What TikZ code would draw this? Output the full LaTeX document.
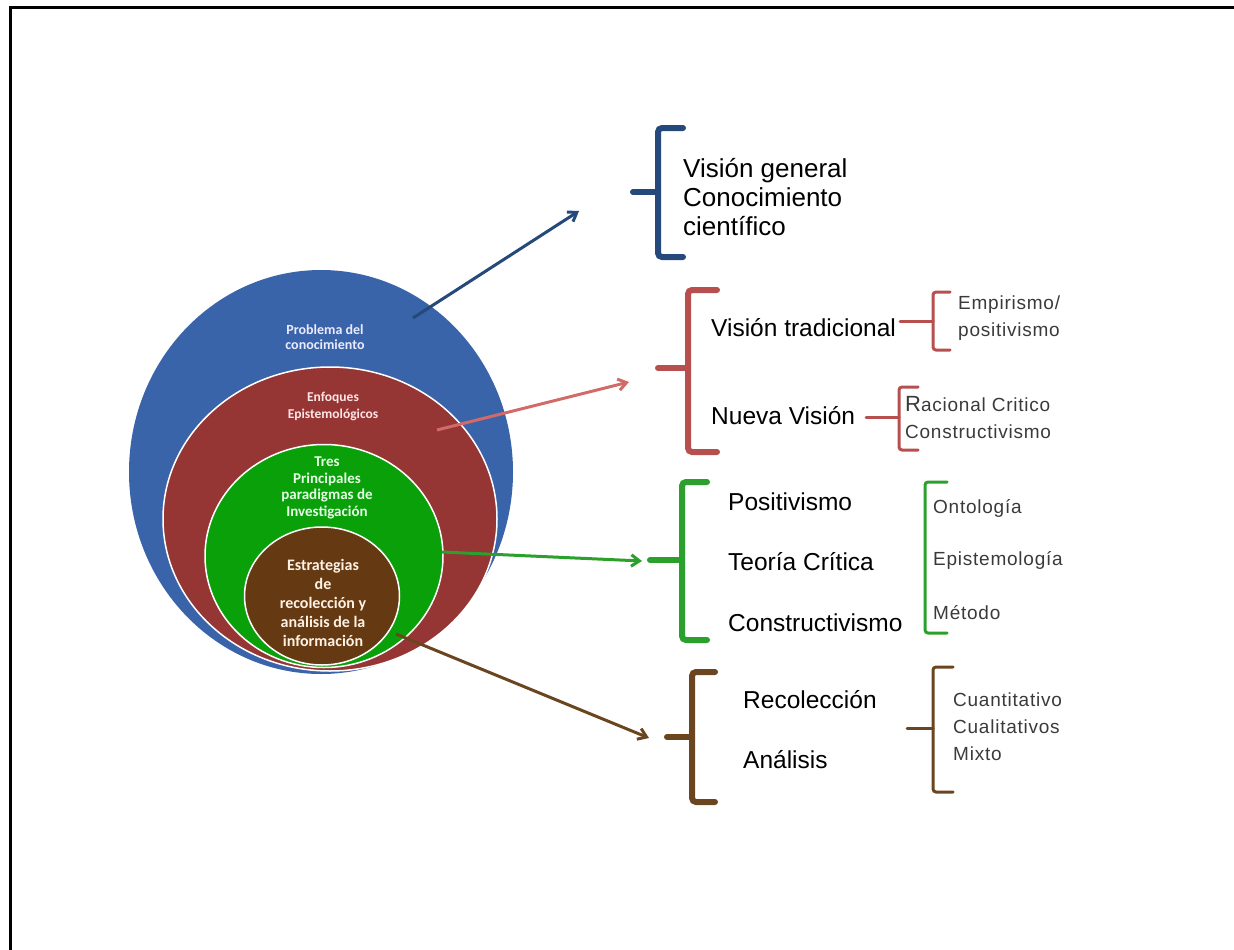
\documentclass[tikz,border=0pt]{standalone}
\usepackage{fontspec}
\setmainfont{Liberation Sans}
\newfontfamily\calibri{Carlito}
\newfontfamily\subfont[LetterSpace=4]{Liberation Sans}
\usetikzlibrary{positioning, arrows.meta, shapes.geometric}

\definecolor{bluecirc}{HTML}{3A64AA}
\definecolor{bluedark}{HTML}{24497A}
\definecolor{redcirc}{HTML}{963634}
\definecolor{redline}{HTML}{B84F4F}
\definecolor{redarrow}{HTML}{D26A68}
\definecolor{greencirc}{HTML}{0AA00A}
\definecolor{greenline}{HTML}{2CA02C}
\definecolor{browncirc}{HTML}{653A12}
\definecolor{brownline}{HTML}{6B4520}
\definecolor{graytext}{HTML}{3A3A3A}

\begin{document}
\begin{tikzpicture}[x=1pt, y=-1pt]
	% Define styles
	\tikzset{
		ring/.style={ellipse, draw=white, line width=1.5pt, inner sep=0pt},
		ringtext/.style={align=center, inner sep=0pt},
		line/.style={draw, line width=3pt, -{Straight Barb[angle=70:10pt]}},
		bigbrace/.style={line width=6pt, rounded corners=4pt, line cap=round},
		smallbrace/.style={line width=3pt, rounded corners=3pt, line cap=round},
		main/.style={anchor=west, inner sep=0pt, align=left, font=\fontsize{24.5}{28}\selectfont},
		sub/.style={anchor=west, inner sep=0pt, align=left, text=graytext, font=\subfont\fontsize{19}{27}\selectfont}
	}
	\useasboundingbox (0,0) rectangle (1234,950);
	\draw[line width=3pt] (10,950) -- (10,8) -- (1234,8);
	
	% Circles
	\node[ellipse, fill=bluecirc, minimum width=384pt, minimum height=404pt] (prob) at (321,472) {};
	\node[ring, fill=redcirc, minimum width=334pt, minimum height=304pt] (enf) at (330,519) {};
	\node[ring, fill=greencirc, minimum width=238pt, minimum height=223pt] (tres) at (324,556) {};
	\node[ring, fill=browncirc, minimum width=155pt, minimum height=138pt] (estr) at (322,596) {};
	
	\node[ringtext, text=blue!8, font=\calibri\bfseries\fontsize{14}{15}\selectfont] (probt) at (325,337) {Problema del\\conocimiento};
	\node[ringtext, text=red!10, font=\calibri\bfseries\fontsize{13.5}{17}\selectfont] (enft) at (333,406) {Enfoques\\Epistemológicos};
	\node[ringtext, text=green!10, font=\calibri\bfseries\fontsize{15}{16.7}\selectfont] (trest) at (327,488) {Tres\\Principales\\paradigmas de\\Investigación};
	\node[ringtext, text=orange!10, font=\calibri\bfseries\fontsize{16}{18.8}\selectfont] (estrt) at (323,603) {Estrategias\\de\\recolección y\\análisis de la\\información};
	
	% Text
	\node[main, font=\fontsize{26}{29}\selectfont] (gen) at (683,197) {Visión general\\Conocimiento\\científico};
	\node[main] (trad) at (711,328) {Visión tradicional};
	\node[main, below=88pt of trad.west, anchor=west] (nueva) {Nueva Visión};
	\node[sub] (emp) at (958,318) {Empirismo/\\positivismo};
	\node[sub] (rac) at (905,418) {{\fontsize{22}{27}\selectfont R}acional Critico\\Constructivismo};
	
	\node[main] (posit) at (728,502) {Positivismo};
	\node[main, below=60pt of posit.west, anchor=west] (teor) {Teoría Crítica};
	\node[main, below=61pt of teor.west, anchor=west] (constr) {Constructivismo};
	\node[sub] (onto) at (933,508) {Ontología};
	\node[sub, below=52pt of onto.west, anchor=west] (epis) {Epistemología};
	\node[sub, below=53pt of epis.west, anchor=west] (meto) {Método};
	
	\node[main] (reco) at (743,700) {Recolección};
	\node[main, below=60pt of reco.west, anchor=west] (anal) {Análisis};
	\node[sub] (cuan) at (953,727) {Cuantitativo\\Cualitativos\\Mixto};
	
	% Brackets
	\draw[bigbrace, bluedark] (683,128) -- (658,128) -- (658,257) -- (683,257);
	\draw[bigbrace, bluedark] (658,192) -- (633,192);
	\draw[bigbrace, redline] (717,290) -- (688,290) -- (688,452) -- (717,452);
	\draw[bigbrace, redline] (688,368) -- (658,368);
	\draw[smallbrace, redline] (950,292) -- (933,292) -- (933,350) -- (950,350);
	\draw[smallbrace, redline] (933,321) -- (900,321);
	\draw[smallbrace, redline] (918,387) -- (899,387) -- (899,450) -- (918,450);
	\draw[smallbrace, redline] (899,417) -- (866,417);
	\draw[bigbrace, greenline] (707,482) -- (682,482) -- (682,640) -- (707,640);
	\draw[bigbrace, greenline] (682,560) -- (650,560);
	\draw[smallbrace, greenline] (947,482) -- (925,482) -- (925,633) -- (947,633);
	\draw[bigbrace, brownline] (715,672) -- (692,672) -- (692,802) -- (715,802);
	\draw[bigbrace, brownline] (692,737) -- (667,737);
	\draw[smallbrace, brownline] (953,667) -- (933,667) -- (933,792) -- (953,792);
	\draw[smallbrace, brownline] (933,728) -- (907,728);
	
	% Arrows
	\coordinate (s1) at (413,318);
	\coordinate (e1) at (579,211);
	\coordinate (s2) at (437,430);
	\coordinate (e2) at (629,382);
	\coordinate (s3) at (442,552);
	\coordinate (e3) at (642,561);
	\coordinate (s4) at (396,634);
	\coordinate (e4) at (649,738);
	\draw[line, bluedark] (s1) -- (e1);
	\draw[line, redarrow] (s2) -- (e2);
	\draw[line, greenline] (s3) -- (e3);
	\draw[line, brownline] (s4) -- (e4);
	
\end{tikzpicture}
\end{document}
